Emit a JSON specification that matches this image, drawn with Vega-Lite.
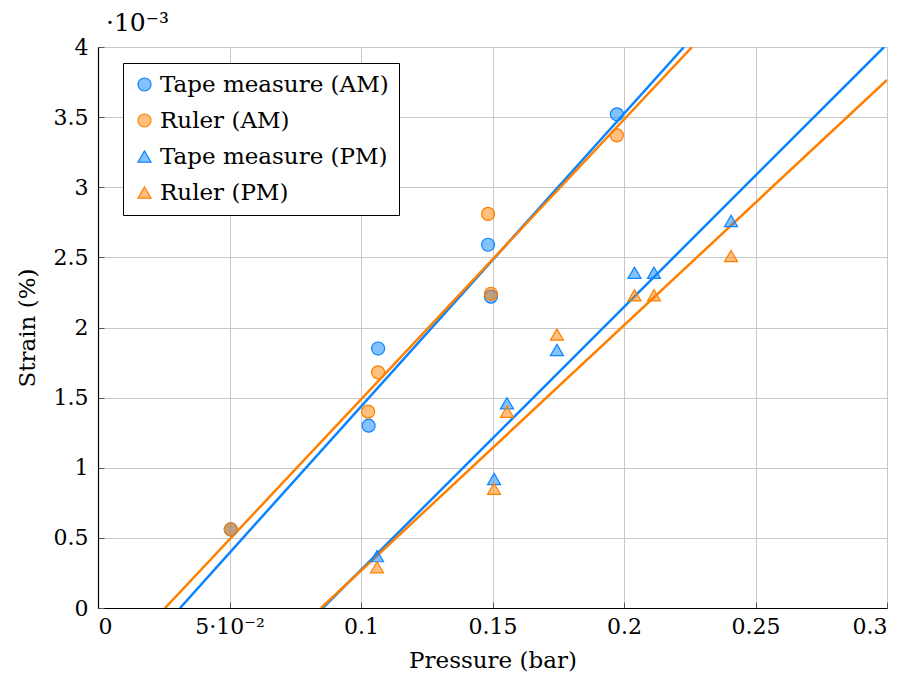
{
  "$schema": "https://vega.github.io/schema/vega-lite/v6.json",
  "autosize": "none",
  "width": 789,
  "height": 561,
  "padding": {"left": 98, "top": 47, "right": 20, "bottom": 80},
  "background": "white",
  "config": {
    "view": {"stroke": "#c8c8c8", "strokeWidth": 1},
    "axis": {
      "domainColor": "black",
      "domainWidth": 1.2,
      "gridColor": "#c8c8c8",
      "gridWidth": 1,
      "tickColor": "#555555",
      "tickSize": -6
    },
    "legend": {"labelFont": "DejaVu Serif"},
    "style": {"guide-label": {"font": "DejaVu Serif"}, "guide-title": {"font": "DejaVu Serif"}}
  },
  "title": {
    "text": "·10⁻³",
    "anchor": "start",
    "frame": "group",
    "font": "DejaVu Serif",
    "fontSize": 25,
    "fontWeight": "normal",
    "color": "black",
    "dx": 8,
    "offset": 0
  },
  "datasets": {
    "points": [
      {"series": "Tape measure (AM)", "pressure": 0.0505, "strain": 0.56},
      {"series": "Tape measure (AM)", "pressure": 0.1065, "strain": 1.85},
      {"series": "Tape measure (AM)", "pressure": 0.1029, "strain": 1.30},
      {"series": "Tape measure (AM)", "pressure": 0.1483, "strain": 2.59},
      {"series": "Tape measure (AM)", "pressure": 0.1494, "strain": 2.22},
      {"series": "Tape measure (AM)", "pressure": 0.1973, "strain": 3.52},
      {"series": "Ruler (AM)", "pressure": 0.0505, "strain": 0.56},
      {"series": "Ruler (AM)", "pressure": 0.1065, "strain": 1.68},
      {"series": "Ruler (AM)", "pressure": 0.1027, "strain": 1.40},
      {"series": "Ruler (AM)", "pressure": 0.1483, "strain": 2.81},
      {"series": "Ruler (AM)", "pressure": 0.1494, "strain": 2.24},
      {"series": "Ruler (AM)", "pressure": 0.1973, "strain": 3.37},
      {"series": "Tape measure (PM)", "pressure": 0.1061, "strain": 0.37},
      {"series": "Tape measure (PM)", "pressure": 0.1506, "strain": 0.92},
      {"series": "Tape measure (PM)", "pressure": 0.1555, "strain": 1.46},
      {"series": "Tape measure (PM)", "pressure": 0.1745, "strain": 1.84},
      {"series": "Tape measure (PM)", "pressure": 0.2040, "strain": 2.39},
      {"series": "Tape measure (PM)", "pressure": 0.2114, "strain": 2.39},
      {"series": "Tape measure (PM)", "pressure": 0.2407, "strain": 2.76},
      {"series": "Ruler (PM)", "pressure": 0.1061, "strain": 0.29},
      {"series": "Ruler (PM)", "pressure": 0.1506, "strain": 0.85},
      {"series": "Ruler (PM)", "pressure": 0.1555, "strain": 1.40},
      {"series": "Ruler (PM)", "pressure": 0.1745, "strain": 1.95},
      {"series": "Ruler (PM)", "pressure": 0.2040, "strain": 2.23},
      {"series": "Ruler (PM)", "pressure": 0.2114, "strain": 2.23},
      {"series": "Ruler (PM)", "pressure": 0.2407, "strain": 2.51}
    ],
    "fits": [
      {"fit": "Tape measure (AM) fit", "pressure": 0.0312, "strain": 0},
      {"fit": "Tape measure (AM) fit", "pressure": 0.2228, "strain": 4},
      {"fit": "Ruler (AM) fit", "pressure": 0.0255, "strain": 0},
      {"fit": "Ruler (AM) fit", "pressure": 0.2259, "strain": 4},
      {"fit": "Tape measure (PM) fit", "pressure": 0.0855, "strain": 0},
      {"fit": "Tape measure (PM) fit", "pressure": 0.2989, "strain": 4},
      {"fit": "Ruler (PM) fit", "pressure": 0.0848, "strain": 0},
      {"fit": "Ruler (PM) fit", "pressure": 0.3, "strain": 3.765}
    ]
  },
  "encoding": {
    "x": {
      "field": "pressure",
      "type": "quantitative",
      "scale": {"domain": [0, 0.3], "nice": false, "zero": false},
      "axis": {
        "title": "Pressure (bar)",
        "values": [0, 0.05, 0.1, 0.15, 0.2, 0.25, 0.3],
        "format": "~g",
        "labelExpr": "datum.value == 0.05 ? '5·10⁻²' : datum.label",
        "labelFont": "DejaVu Serif",
        "labelFontSize": 22,
        "labelColor": "black",
        "titleFont": "DejaVu Serif",
        "titleFontSize": 23,
        "titleFontWeight": "normal",
        "titleColor": "black",
        "labelPadding": 14,
        "titlePadding": 12
      }
    },
    "y": {
      "field": "strain",
      "type": "quantitative",
      "scale": {"domain": [0, 4], "nice": false},
      "axis": {
        "title": "Strain (%)",
        "values": [0, 0.5, 1, 1.5, 2, 2.5, 3, 3.5, 4],
        "format": "~g",
        "labelFont": "DejaVu Serif",
        "labelFontSize": 22,
        "labelColor": "black",
        "titleFont": "DejaVu Serif",
        "titleFontSize": 23,
        "titleFontWeight": "normal",
        "titleColor": "black",
        "labelPadding": 16,
        "titlePadding": 14
      }
    }
  },
  "layer": [
    {
      "data": {"name": "fits"},
      "mark": {"type": "line", "strokeWidth": 2.5, "clip": true},
      "encoding": {
        "detail": {"field": "fit"},
        "color": {
          "condition": {"test": "indexof(datum.fit, 'Tape') >= 0", "value": "#0a84ff"},
          "value": "#ff8000"
        }
      }
    },
    {
      "data": {"name": "points"},
      "mark": {"type": "point", "filled": true, "fillOpacity": 0.5, "strokeOpacity": 1, "strokeWidth": 1.2, "size": 170},
      "encoding": {
        "color": {
          "field": "series",
          "type": "nominal",
          "scale": {
            "domain": ["Tape measure (AM)", "Ruler (AM)", "Tape measure (PM)", "Ruler (PM)"],
            "range": ["#0a84ff", "#ff8000", "#0a84ff", "#ff8000"]
          },
          "legend": {
            "title": null,
            "orient": "none",
            "legendX": 25,
            "legendY": 16,
            "fillColor": "white",
            "strokeColor": "black",
            "padding": 10,
            "rowPadding": 12,
            "labelFont": "DejaVu Serif",
            "labelFontSize": 23,
            "labelColor": "black",
            "labelLimit": 400,
            "labelOffset": 4,
            "symbolSize": 170,
            "symbolStrokeWidth": 1.2,
            "symbolOpacity": 1,
            "encode": {"symbols": {"update": {"fillOpacity": {"value": 0.5}, "strokeOpacity": {"value": 1}}}}
          }
        },
        "stroke": {
          "field": "series",
          "type": "nominal",
          "scale": {
            "domain": ["Tape measure (AM)", "Ruler (AM)", "Tape measure (PM)", "Ruler (PM)"],
            "range": ["#0a84ff", "#ff8000", "#0a84ff", "#ff8000"]
          },
          "legend": {"title": null, "labelFont": "DejaVu Serif"}
        },
        "shape": {
          "field": "series",
          "type": "nominal",
          "scale": {
            "domain": ["Tape measure (AM)", "Ruler (AM)", "Tape measure (PM)", "Ruler (PM)"],
            "range": ["circle", "circle", "triangle-up", "triangle-up"]
          },
          "legend": {"title": null, "labelFont": "DejaVu Serif"}
        }
      }
    }
  ]
}
